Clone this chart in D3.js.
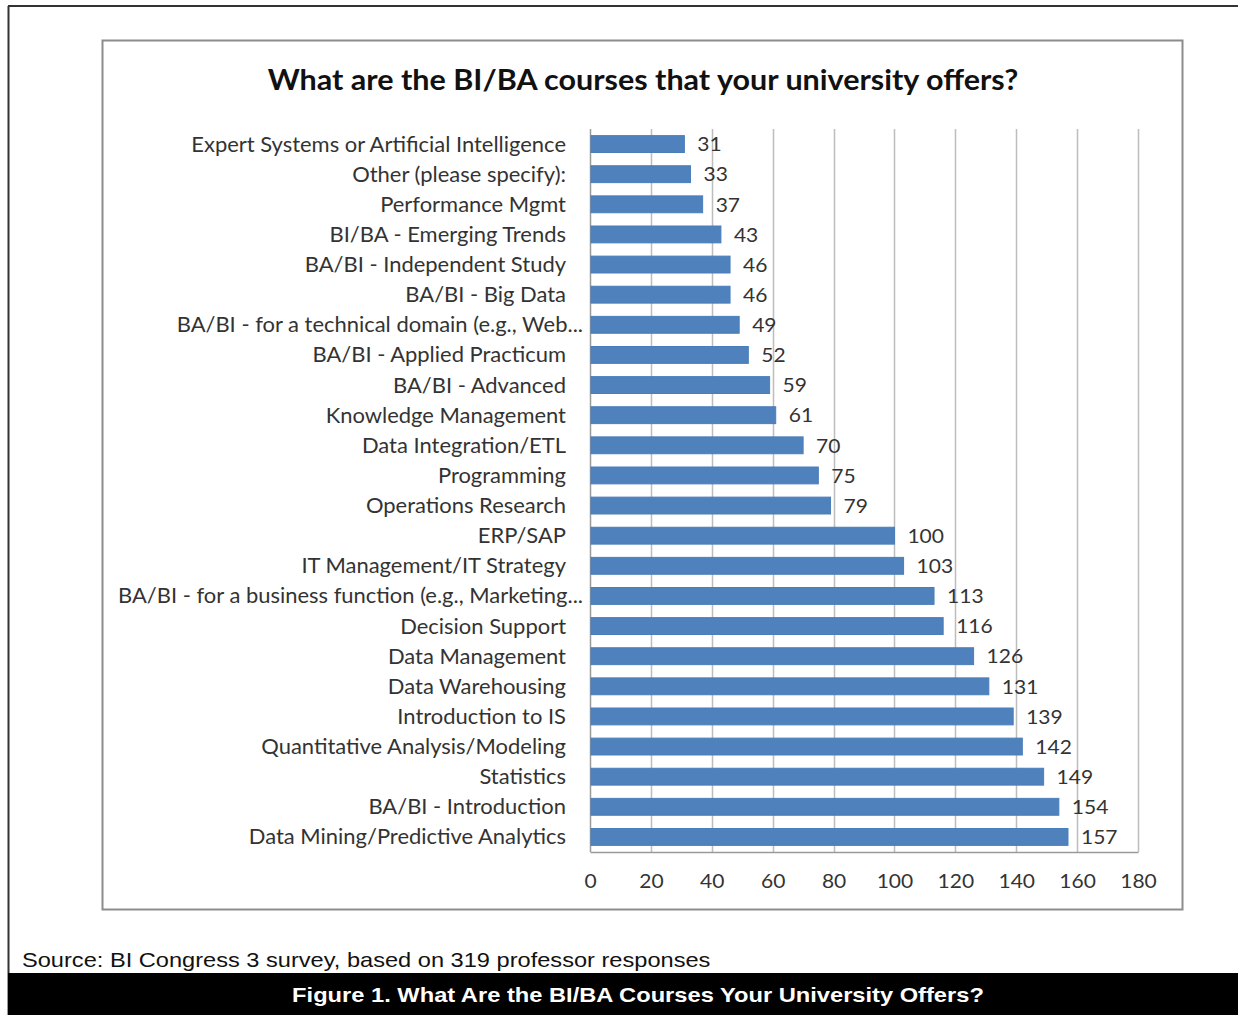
<!DOCTYPE html>
<html><head><meta charset="utf-8">
<script src="https://cdn.jsdelivr.net/npm/d3@7"></script>
<style>body{margin:0;background:#fff;}svg{display:block;}</style>
</head><body>
<script>
const categories = ["Expert Systems or Artificial Intelligence","Other (please specify):","Performance Mgmt","BI/BA - Emerging Trends","BA/BI - Independent Study","BA/BI - Big Data","BA/BI - for a technical domain (e.g., Web...","BA/BI - Applied Practicum","BA/BI - Advanced","Knowledge Management","Data Integration/ETL","Programming","Operations Research","ERP/SAP","IT Management/IT Strategy","BA/BI - for a business function (e.g., Marketing...","Decision Support","Data Management","Data Warehousing","Introduction to IS","Quantitative Analysis/Modeling","Statistics","BA/BI - Introduction","Data Mining/Predictive Analytics"];
const values = [31,33,37,43,46,46,49,52,59,61,70,75,79,100,103,113,116,126,131,139,142,149,154,157];
const xTicks = [0,20,40,60,80,100,120,140,160,180];
const title = "What are the BI/BA courses that your university offers?";
const source = "Source: BI Congress 3 survey, based on 319 professor responses";
const caption = "Figure 1. What Are the BI/BA Courses Your University Offers?";

const W = 1238, H = 1015;
const svg = d3.select("body").append("svg").attr("width", W).attr("height", H);
const font = "Lato, 'Open Sans', sans-serif";

function stretch(sel, k) {
  sel.each(function() {
    const w = this.getComputedTextLength();
    d3.select(this).attr("textLength", w * k).attr("lengthAdjust", "spacingAndGlyphs");
  });
}

// outer frame
svg.append("line").attr("x1",8).attr("x2",W).attr("y1",6).attr("y2",6).attr("stroke","#333").attr("stroke-width",2);
svg.append("line").attr("x1",8.5).attr("x2",8.5).attr("y1",6).attr("y2",H).attr("stroke","#333").attr("stroke-width",2);

// chart box
svg.append("rect").attr("x",102.5).attr("y",40.5).attr("width",1080).attr("height",869)
  .attr("fill","#fff").attr("stroke","#8c8c8c").attr("stroke-width",2);

svg.append("text").attr("x",643).attr("y",90).attr("text-anchor","middle")
  .attr("font-family",font).attr("font-weight","bold").attr("font-size",28).attr("fill","#111").text(title)
  .call(stretch, 1.09);

const x = d3.scaleLinear().domain([0,180]).range([590,1138]);
const y = d3.scaleBand().domain(categories).range([129,852]).paddingInner(0.44).paddingOuter(0.22);

// gridlines
svg.append("g").selectAll("line").data(xTicks.slice(1)).join("line")
  .attr("x1",d=>Math.round(x(d))+0.5).attr("x2",d=>Math.round(x(d))+0.5)
  .attr("y1",129).attr("y2",852).attr("stroke","#bdbdbd").attr("stroke-width",1.5);

// axis
const ax = svg.append("g").attr("transform","translate(0,852)")
  .call(d3.axisBottom(x).tickValues(xTicks).tickSize(0).tickPadding(22));
ax.select(".domain").attr("stroke","#9a9a9a").attr("stroke-width",1.5);
ax.selectAll("text").attr("font-family",font).attr("font-size",20).attr("fill","#333").call(stretch, 1.05);

// left axis line
svg.append("line").attr("x1",590.5).attr("x2",590.5).attr("y1",129).attr("y2",852).attr("stroke","#9a9a9a").attr("stroke-width",1.5);

// bars
svg.append("g").selectAll("rect").data(values).join("rect")
  .attr("x",x(0)+1).attr("y",(d,i)=>y(categories[i]))
  .attr("width",d=>x(d)-x(0)-1).attr("height",y.bandwidth())
  .attr("fill","#4f81bd").attr("stroke","#4a7ebb").attr("stroke-width",1);

// value labels
svg.append("g").selectAll("text").data(values).join("text")
  .attr("x",d=>x(d)+13).attr("y",(d,i)=>y(categories[i])+y.bandwidth()/2)
  .attr("dy","0.36em").attr("font-family",font).attr("font-size",20).attr("fill","#333").text(d=>d)
  .call(stretch, 1.05);

// category labels
svg.append("g").selectAll("text").data(categories).join("text")
  .attr("x",d=>d.endsWith("...") ? 583 : 566).attr("y",d=>y(d)+y.bandwidth()/2).attr("dy","0.36em").attr("text-anchor","end")
  .attr("font-family",font).attr("font-size",21).attr("fill","#333").text(d=>d)
  .call(stretch, 1.045);

// source
svg.append("text").attr("x",22).attr("y",967).attr("font-family","'Liberation Sans', Arial, sans-serif")
  .attr("font-size",21).attr("fill","#111").text(source).call(stretch, 1.124);

// caption band
svg.append("rect").attr("x",8).attr("y",973).attr("width",W-8).attr("height",H-973).attr("fill","#000");
svg.append("text").attr("x",638).attr("y",1002).attr("text-anchor","middle")
  .attr("font-family","'Liberation Sans', Arial, sans-serif").attr("font-weight","bold")
  .attr("font-size",21).attr("fill","#fff").text(caption).call(stretch, 1.127);
</script>
</body></html>
